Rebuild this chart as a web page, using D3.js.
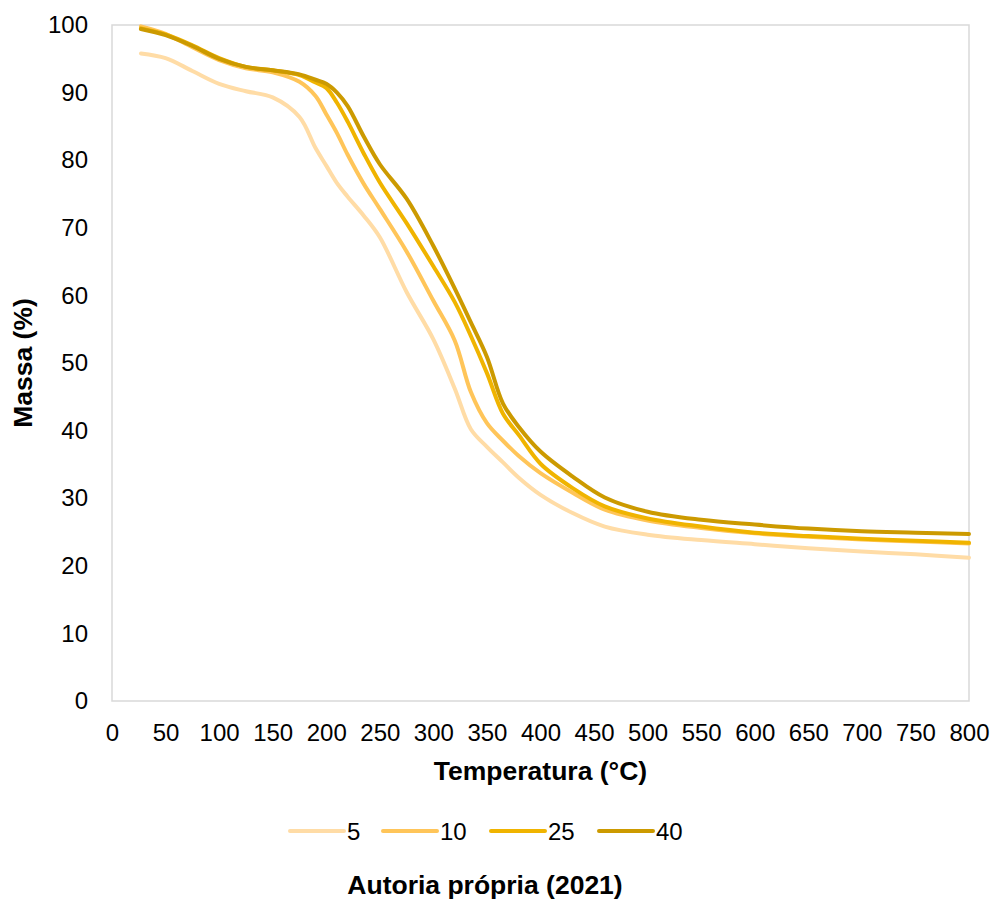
<!DOCTYPE html>
<html>
<head>
<meta charset="utf-8">
<script src="https://cdn.jsdelivr.net/npm/d3@7"></script>
<style>
  html, body { margin: 0; padding: 0; background: #ffffff; }
  svg { display: block; font-family: "Liberation Sans", Arial, sans-serif; }
</style>
</head>
<body>
<svg id="chart" width="994" height="900"></svg>
<script>
// Temperature (°C) sample points shared by every curve
const temperatures = [27, 50, 75, 100, 125, 150, 175, 190, 200, 210, 220, 235, 250, 275, 300, 320, 335, 350, 365, 380, 400, 430, 460, 500, 550, 600, 650, 700, 750, 800];

// Mass (%) for each series
const mass5  = [95.8, 95.1, 93.2, 91.3, 90.2, 89.3, 86.4, 81.8, 79.2, 76.6, 74.6, 71.8, 68.6, 60.5, 53.5, 46.2, 40.2, 37.6, 35.3, 33.0, 30.5, 27.8, 25.8, 24.6, 23.8, 23.2, 22.6, 22.1, 21.7, 21.2];
const mass10 = [99.8, 98.7, 96.7, 94.8, 93.6, 93.0, 91.6, 89.5, 86.8, 84.0, 80.8, 76.5, 72.8, 66.5, 59.2, 53.3, 45.7, 41.1, 38.5, 36.2, 33.7, 30.8, 28.3, 26.7, 25.6, 24.8, 24.3, 23.9, 23.6, 23.3];
const mass25 = [99.5, 98.6, 97.0, 95.1, 93.8, 93.3, 92.6, 91.5, 90.7, 88.5, 85.7, 81.0, 76.7, 70.7, 64.3, 59.0, 54.0, 48.5, 42.5, 39.3, 35.1, 31.5, 28.8, 27.0, 25.8, 24.9, 24.4, 24.0, 23.7, 23.4];
const mass40 = [99.4, 98.5, 96.9, 95.0, 93.8, 93.3, 92.7, 91.9, 91.3, 90.0, 88.0, 83.5, 79.4, 74.3, 67.3, 61.0, 56.0, 50.9, 44.0, 40.5, 36.9, 33.2, 30.1, 28.0, 26.8, 26.1, 25.5, 25.1, 24.9, 24.7];

const seriesNames = ["5", "10", "25", "40"];
const seriesValues = [mass5, mass10, mass25, mass40];
const seriesColors = ["#ffdca6", "#ffc559", "#f0b400", "#cc9a00"];

const xTicks = d3.range(0, 801, 50);
const yTicks = d3.range(0, 101, 10);

const svg = d3.select("#chart");
const plot = { left: 112, right: 969, top: 25, bottom: 701 };

const x = d3.scaleLinear().domain([0, 800]).range([plot.left, plot.right]);
const y = d3.scaleLinear().domain([0, 100]).range([plot.bottom, plot.top]);

// Plot area frame
svg.append("rect")
  .attr("x", plot.left).attr("y", plot.top)
  .attr("width", plot.right - plot.left).attr("height", plot.bottom - plot.top)
  .attr("fill", "none").attr("stroke", "#d9d9d9").attr("stroke-width", 1.5);

// Axes (labels only, no tick marks or domain line)
const xAxis = svg.append("g")
  .attr("transform", `translate(0,${plot.bottom})`)
  .call(d3.axisBottom(x).tickValues(xTicks).tickSize(0).tickPadding(23));
xAxis.select(".domain").remove();
xAxis.selectAll("text").attr("font-size", 24).attr("fill", "#000")
  .attr("font-family", "Liberation Sans, Arial, sans-serif");

const yAxis = svg.append("g")
  .attr("transform", `translate(${plot.left},0)`)
  .call(d3.axisLeft(y).tickValues(yTicks).tickSize(0).tickPadding(24));
yAxis.select(".domain").remove();
yAxis.selectAll("text").attr("font-size", 24).attr("fill", "#000")
  .attr("font-family", "Liberation Sans, Arial, sans-serif");

// Curves
const line = d3.line()
  .x((d, i) => x(temperatures[i]))
  .y(d => y(d))
  .curve(d3.curveCatmullRom.alpha(0.5));

seriesValues.forEach((vals, k) => {
  svg.append("path")
    .datum(vals)
    .attr("d", line)
    .attr("fill", "none")
    .attr("stroke", seriesColors[k])
    .attr("stroke-width", 4)
    .attr("stroke-linecap", "round")
    .attr("stroke-linejoin", "round");
});

// Axis titles
svg.append("text")
  .attr("x", (plot.left + plot.right) / 2).attr("y", 780)
  .attr("text-anchor", "middle").attr("font-size", 26.5).attr("font-weight", "bold")
  .text("Temperatura (°C)");

svg.append("text")
  .attr("transform", `translate(32,${(plot.top + plot.bottom) / 2}) rotate(-90)`)
  .attr("text-anchor", "middle").attr("font-size", 26.5).attr("font-weight", "bold")
  .text("Massa (%)");

// Legend
const legendX = [290, 383, 491, 599];
const legend = svg.append("g");
seriesNames.forEach((name, k) => {
  legend.append("line")
    .attr("x1", legendX[k]).attr("x2", legendX[k] + 54)
    .attr("y1", 831).attr("y2", 831)
    .attr("stroke", seriesColors[k]).attr("stroke-width", 4)
    .attr("stroke-linecap", "round");
  legend.append("text")
    .attr("x", legendX[k] + 57).attr("y", 840)
    .attr("font-size", 24).attr("fill", "#000")
    .text(name);
});

// Source note
svg.append("text")
  .attr("x", 485).attr("y", 894)
  .attr("text-anchor", "middle").attr("font-size", 26.5).attr("font-weight", "bold")
  .text("Autoria própria (2021)");
</script>
</body>
</html>
